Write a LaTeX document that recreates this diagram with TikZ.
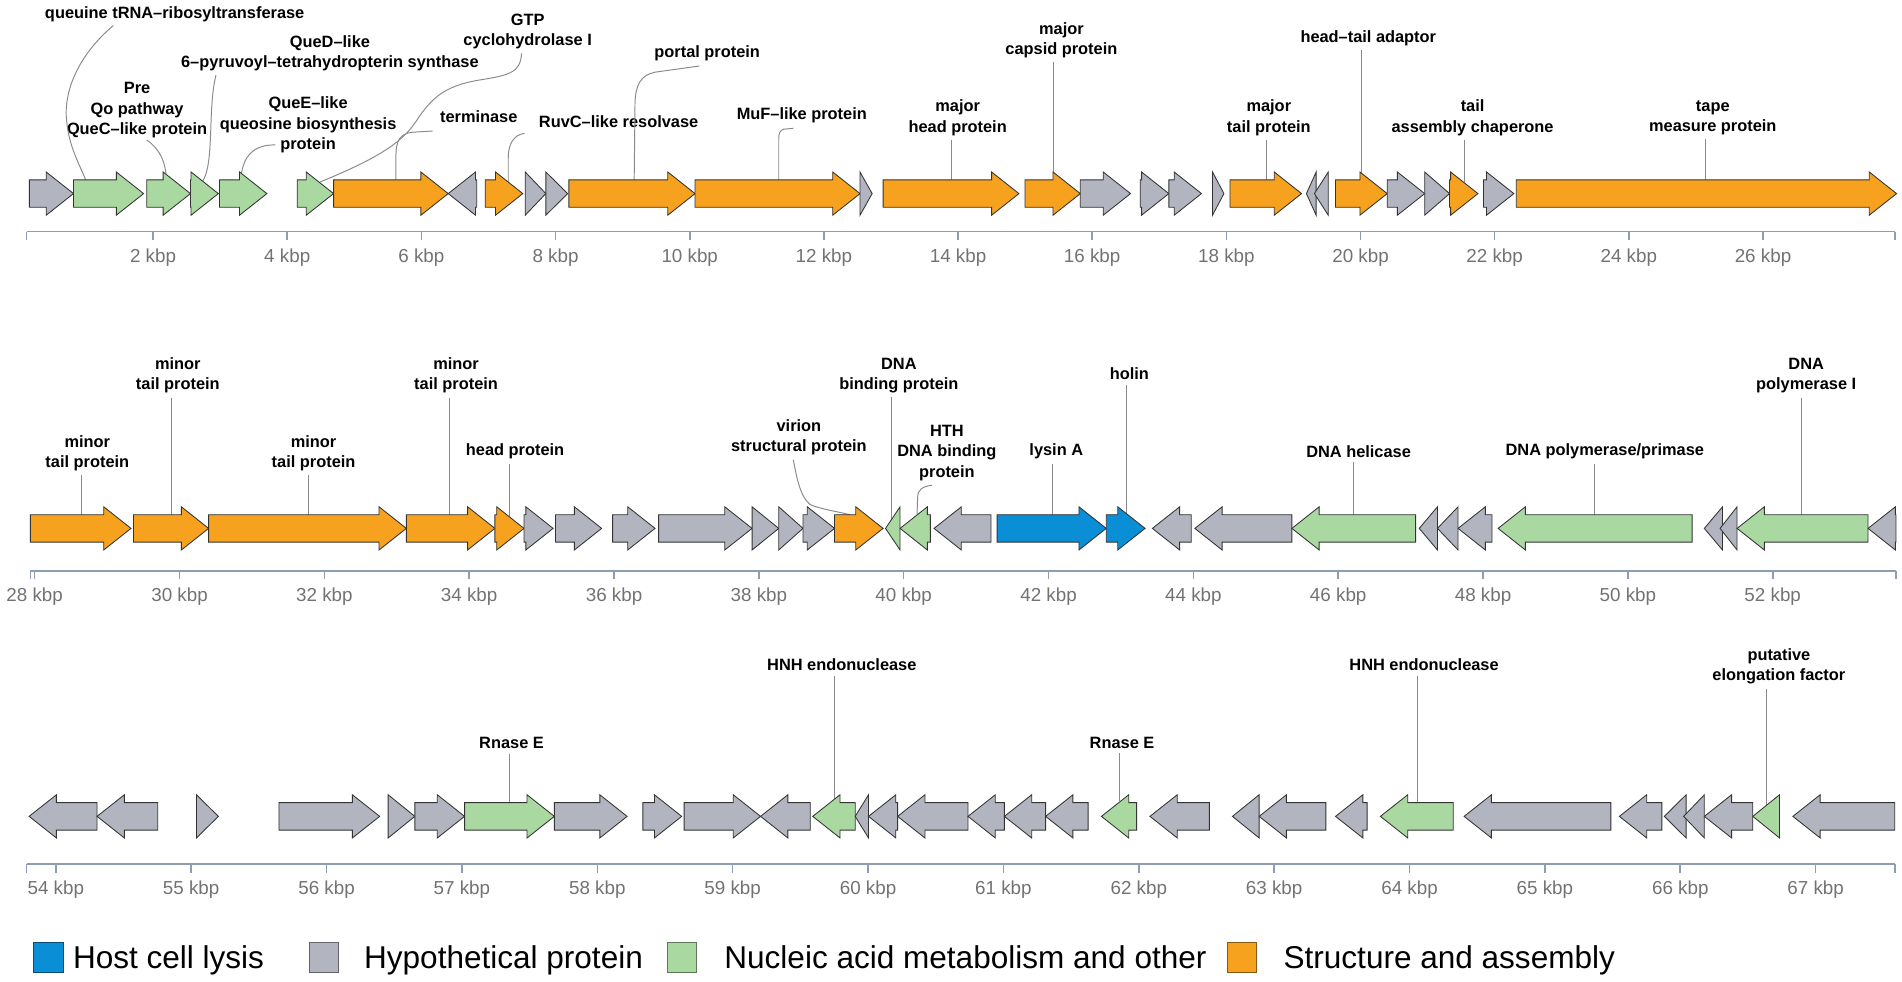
\documentclass[tikz,border=0pt]{standalone}
\usepackage{fontspec}
\setmainfont{Liberation Sans}
\definecolor{co}{HTML}{F6A21E}
\definecolor{cg}{HTML}{B2B5C0}
\definecolor{cn}{HTML}{A9D9A1}
\definecolor{cb}{HTML}{0A8ED6}
\definecolor{axc}{HTML}{8E9DB3}
\definecolor{tkc}{HTML}{727272}
\definecolor{ldc}{HTML}{8A8A8A}
\def\gry{0}
\newcommand\gf[3]{\pgfmathsetmacro\hs{max(#1,#2-22.5)}%
  \filldraw[gene,fill=#3] (#1,\gry-11.3) -- (\hs,\gry-11.3) -- (\hs,\gry-17.8) -- (#2,\gry) -- (\hs,\gry+17.8) -- (\hs,\gry+11.3) -- (#1,\gry+11.3) -- cycle;}
\newcommand\gr[3]{\pgfmathsetmacro\hs{min(#2,#1+22.5)}%
  \filldraw[gene,fill=#3] (#2,\gry-11.3) -- (\hs,\gry-11.3) -- (\hs,\gry-17.8) -- (#1,\gry) -- (\hs,\gry+17.8) -- (\hs,\gry+11.3) -- (#2,\gry+11.3) -- cycle;}
\tikzset{
  gene/.style={draw=black!80,line width=0.7pt,line join=miter},
  lab/.style={font=\bfseries\fontsize{13.5}{16.8}\selectfont,align=center,inner sep=1pt},
  leader/.style={draw=ldc,line width=0.8pt},
  axisline/.style={draw=axc,line width=1.3pt},
  tick/.style={font=\fontsize{15.5}{18}\selectfont,text=tkc,inner sep=0pt},
  leg/.style={font=\fontsize{26}{30}\selectfont,inner sep=0pt},
}
\begin{document}
\begin{tikzpicture}[x=1pt,y=-1pt]
\useasboundingbox (0,0) rectangle (1568,809.5);

% ================= ROW 1 =================
\node[lab] (L1) at (144,11.5) {queuine tRNA–ribosyltransferase};
\node[lab] (L2) at (113,91) {Pre\\Qo pathway\\QueC–like protein};
\node[lab] (L3) at (272,44) {QueD–like\\6–pyruvoyl–tetrahydropterin synthase};
\node[lab] (L4) at (254,103) {QueE–like\\queosine biosynthesis\\protein};
\node[lab] (L5) at (435,26) {GTP\\cyclohydrolase I};
\node[lab] (L6) at (394.7,96) {terminase};
\node[lab] (L7) at (510,100) {RuvC–like resolvase};
\node[lab] (L8) at (583,44) {portal protein};
\node[lab] (L9) at (661,95) {MuF–like protein};
\node[lab] (L10) at (789.5,97) {major\\head protein};
\node[lab] (L11) at (875,33) {major\\capsid protein};
\node[lab] (L12) at (1046,97) {major\\tail protein};
\node[lab] (L13) at (1128,31.6) {head–tail adaptor};
\node[lab] (L14) at (1214,97) {tail\\assembly chaperone};
\node[lab] (L15) at (1412,97) {tape\\measure protein};

\coordinate (g1) at (71.3,150);
\coordinate (g2) at (137.3,150);
\coordinate (g3) at (166.6,150);
\coordinate (g4) at (198.5,150);
\coordinate (g5) at (264,150);
\coordinate (g6) at (326.4,150);
\coordinate (g7) at (419,150);
\coordinate (g8) at (522.8,150);
\coordinate (g9) at (642,150);
\coordinate (g10) at (784,150);
\coordinate (g11) at (868.4,150);
\coordinate (g12) at (1044,150);
\coordinate (g13) at (1122,150);
\coordinate (g14) at (1207,150);
\coordinate (g15) at (1406,150);

\draw[leader] (93.5,21) .. controls (65,45) and (52,75) .. (55,100) .. controls (57,122) and (66,136) .. (g1);
\draw[leader] (121,115.4) .. controls (132,123) and (137,134) .. (g2);
\draw[leader] (178,62) .. controls (171,90) and (177,136) .. (g3);
\draw[leader] (227,119.5) .. controls (210,119) and (199,128) .. (g4);
\draw[leader] (430,44) .. controls (429,60) and (420,62) .. (395,66) .. controls (365,71) and (355,82) .. (343,100) .. controls (330,120) and (305,133) .. (g5);
\draw[leader] (356.7,108) -- (340,109) .. controls (330,110) and (326.4,116) .. (326.4,128) -- (g6);
\draw[leader] (432.4,110) .. controls (424,111) and (419,118) .. (419,130) -- (g7);
\draw[leader] (576.6,54.4) -- (540,59.5) .. controls (528,62) and (524,70) .. (523.5,85) -- (g8);
\draw[leader] (654,105.8) -- (646,106.5) .. controls (643,107.5) and (642,110) .. (642,114) -- (g9);
\foreach \i in {10,11,12,13,14,15} {\draw[leader] ([yshift=-2.5pt]L\i.south -| g\i) -- (g\i);}

\def\gry{159.6}
\gf{24.2}{60.6}{cg}
\gf{60.6}{118.4}{cn}
\gf{121}{157}{cn}
\gf{157}{180}{cn}
\gf{181}{220}{cn}
\gf{245}{275}{cn}
\gf{275}{369.5}{co}
\gr{369.5}{393}{cg}
\gf{400}{431}{co}
\gf{433}{450}{cg}
\gf{450}{468}{cg}
\gf{469}{573}{co}
\gf{573}{709}{co}
\gf{709}{719}{cg}
\gf{728}{840}{co}
\gf{845}{890.6}{co}
\gf{890.6}{932}{cg}
\gf{940}{963.6}{cg}
\gf{963.6}{990.5}{cg}
\gf{999.6}{1009}{cg}
\gf{1014}{1073}{co}
\gr{1077}{1085}{cg}
\gr{1083.6}{1095}{cg}
\gf{1101}{1143.6}{co}
\gf{1143.6}{1174.5}{cg}
\gf{1174.5}{1195}{cg}
\gf{1195}{1218.4}{co}
\gf{1223}{1248}{cg}
\gf{1250}{1563.5}{co}

\draw[axisline] (22,191) -- (1562,191);
\draw[axisline] (22,191) -- (22,198);
\draw[axisline] (1562,191) -- (1562,198);
\foreach \k in {2,4,...,26} {\pgfmathsetmacro\xx{126.2+(\k-2)*55.3}
  \draw[axisline] (\xx,191) -- (\xx,198);
  \node[tick] (ta\k) at (\xx,212.5) {\k\ kbp};}

% ================= ROW 2 =================
\node[lab] (M1) at (72,373.5) {minor\\tail protein};
\node[lab] (M2) at (146.6,309.5) {minor\\tail protein};
\node[lab] (M3) at (258.5,373.5) {minor\\tail protein};
\node[lab] (M4) at (376,309.5) {minor\\tail protein};
\node[lab] (M5) at (424.6,372.4) {head protein};
\node[lab] (M6) at (658.6,360.3) {virion\\structural protein};
\node[lab] (M7) at (741,309.5) {DNA\\binding protein};
\node[lab] (M8) at (780.6,373.4) {HTH\\DNA binding\\protein};
\node[lab] (M9) at (870.8,372.4) {lysin A};
\node[lab] (M10) at (931,308.4) {holin};
\node[lab] (M11) at (1120,372.4) {DNA helicase};
\node[lab] (M12) at (1323,372.4) {DNA polymerase/primase};
\node[lab] (M13) at (1489,309.7) {DNA\\polymerase I};

\coordinate (h1) at (67.3,426);
\coordinate (h2) at (141.3,426);
\coordinate (h3) at (254,426);
\coordinate (h4) at (370.8,426);
\coordinate (h5) at (419.6,427);
\coordinate (h6) at (706,426);
\coordinate (h7) at (735,430);
\coordinate (h8) at (756,424);
\coordinate (h9) at (867.7,426);
\coordinate (h10) at (928.3,425);
\coordinate (h11) at (1116.2,426);
\coordinate (h12) at (1314.3,426);
\coordinate (h13) at (1485.4,426);

\foreach \i in {1,2,3,4,5,7,9,10,11,12,13} {\draw[leader] ([yshift=-2.5pt]M\i.south -| h\i) -- (h\i);}
\draw[leader] (654,379) .. controls (657,395) and (660,410) .. (668,416) .. controls (680,421) and (695,422) .. (h6);
\draw[leader] (768.4,400) .. controls (760,401) and (756.5,404) .. (756.5,410) -- (h8);

\def\gry{435.6}
\gf{25}{108}{co}
\gf{110}{172}{co}
\gf{172}{335}{co}
\gf{335}{408}{co}
\gf{408}{432}{co}
\gf{432}{456}{cg}
\gf{458}{496}{cg}
\gf{505}{540}{cg}
\gf{543}{620}{cg}
\gf{620}{642}{cg}
\gf{642}{662}{cg}
\gf{662}{688}{cg}
\gf{688}{728}{co}
\gr{730}{742}{cn}
\gr{742}{767}{cn}
\gr{770}{817}{cg}
\gf{822}{912}{cb}
\gf{912}{944}{cb}
\gr{950}{982}{cg}
\gr{985}{1065}{cg}
\gr{1065}{1167}{cn}
\gr{1170}{1185}{cg}
\gr{1185}{1202}{cg}
\gr{1202}{1230}{cg}
\gr{1235}{1395}{cn}
\gr{1405}{1420}{cg}
\gr{1418}{1432}{cg}
\gr{1432}{1540}{cn}
\gr{1540}{1563}{cg}

\draw[axisline] (25,470.5) -- (1563,470.5);
\draw[axisline] (25,470.5) -- (25,477.5);
\draw[axisline] (1563,470.5) -- (1563,477.5);
\foreach \k in {28,30,...,52} {\pgfmathsetmacro\xx{28.6+(\k-28)*59.7}
  \draw[axisline] (\xx,470.5) -- (\xx,477.5);
  \node[tick] (tb\k) at (\xx,492) {\k\ kbp};}

% ================= ROW 3 =================
\node[lab] (N1) at (421.7,612.8) {Rnase E};
\node[lab] (N2) at (694,548.3) {HNH endonuclease};
\node[lab] (N3) at (925,612.3) {Rnase E};
\node[lab] (N4) at (1174,548.3) {HNH endonuclease};
\node[lab] (N5) at (1466.5,549.2) {putative\\elongation factor};

\coordinate (k1) at (420,664);
\coordinate (k2) at (688.3,664);
\coordinate (k3) at (923.2,660);
\coordinate (k4) at (1168.6,664);
\coordinate (k5) at (1456.6,664);
\foreach \i in {1,2,3,4,5} {\draw[leader] ([yshift=-2.5pt]N\i.south -| k\i) -- (k\i);}

\def\gry{673}
\gr{24}{80}{cg}
\gr{80}{130}{cg}
\gf{162}{180}{cg}
\gf{230}{313}{cg}
\gf{320}{342}{cg}
\gf{342}{383}{cg}
\gf{383}{457}{cn}
\gf{457}{517}{cg}
\gf{530}{562}{cg}
\gf{564}{627}{cg}
\gr{627}{668}{cg}
\gr{670}{705}{cn}
\gr{705}{716}{cg}
\gr{716}{740}{cg}
\gr{740}{798}{cg}
\gr{798}{828}{cg}
\gr{828}{862}{cg}
\gr{862}{897}{cg}
\gr{908}{937}{cn}
\gr{948}{997}{cg}
\gr{1016}{1038}{cg}
\gr{1038}{1093}{cg}
\gr{1101}{1127}{cg}
\gr{1138}{1198}{cn}
\gr{1207}{1328}{cg}
\gr{1335}{1370}{cg}
\gr{1372}{1390}{cg}
\gr{1388}{1405}{cg}
\gr{1405}{1445}{cg}
\gr{1445}{1467}{cn}
\gr{1478}{1562}{cg}

\draw[axisline] (22,712.5) -- (1562,712.5);
\draw[axisline] (22,712.5) -- (22,719.5);
\draw[axisline] (1562,712.5) -- (1562,719.5);
\foreach \k in {54,...,67} {\pgfmathsetmacro\xx{46+(\k-54)*111.6}
  \draw[axisline] (\xx,712.5) -- (\xx,719.5);
  \node[tick] (tc\k) at (\xx,733) {\k\ kbp};}

% ================= LEGEND =================
\filldraw[fill=cb,draw=cb!55!black,line width=0.8pt] (28,777) rectangle (52,802);
\node[leg,anchor=base west] (e1) at (60,798.5) {Host cell lysis};
\filldraw[fill=cg,draw=cg!55!black,line width=0.8pt] (255,777) rectangle (279,802);
\node[leg,anchor=base west] (e2) at (300,798.5) {Hypothetical protein};
\filldraw[fill=cn,draw=cn!55!black,line width=0.8pt] (550,777) rectangle (574,802);
\node[leg,anchor=base west] (e3) at (597,798.5) {Nucleic acid metabolism and other};
\filldraw[fill=co,draw=co!55!black,line width=0.8pt] (1012,777) rectangle (1036,802);
\node[leg,anchor=base west] (e4) at (1058,798.5) {Structure and assembly};
\end{tikzpicture}
\end{document}
